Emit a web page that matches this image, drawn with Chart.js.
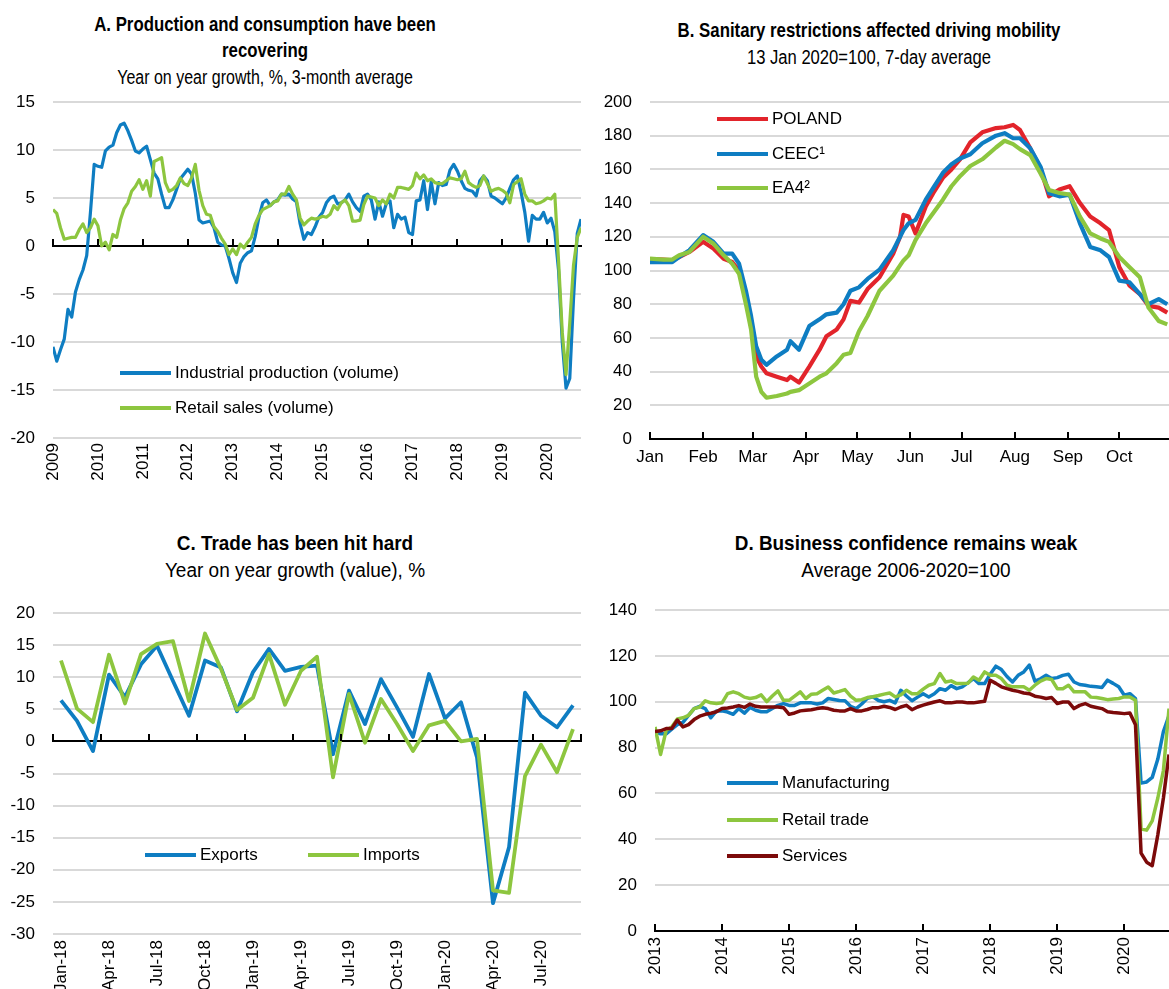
<!DOCTYPE html>
<html>
<head>
<meta charset="utf-8">
<script src="https://cdn.jsdelivr.net/npm/chart.js@4.4.1/dist/chart.umd.min.js"></script>
<style>
  body { margin:0; background:#fff; width:1169px; height:989px; overflow:hidden; position:relative; font-family:'Liberation Sans', Arial, sans-serif; }
  canvas { position:absolute; }
  .ttl { position:absolute; width:600px; text-align:center; color:#000; }
  .ttl b { display:block; font-weight:bold; font-size:21px; line-height:26px; transform:scaleX(0.8); }
  .ttl span { display:block; font-size:20px; line-height:26px; margin-top:1px; transform:scaleX(0.8); }
  .ttl.wide b { transform:scaleX(0.9); }
  .ttl.wide span { transform:scaleX(0.95); }
  .lg { position:absolute; height:24px; display:flex; align-items:center; font-size:17px; white-space:nowrap; color:#000; }
  .lg i { display:block; width:51px; height:4px; margin-right:4px; }
</style>
</head>
<body>
<div class="ttl" style="left:-35px;top:11px"><b>A. Production and consumption have been</b><b>recovering</b><span>Year on year growth, %, 3-month average</span></div>
<div class="ttl" style="left:569px;top:17px"><b>B. Sanitary restrictions affected driving mobility</b><span style="transform:scaleX(0.83)">13 Jan 2020=100, 7-day average</span></div>
<div class="ttl wide" style="left:-5px;top:530px"><b>C. Trade has been hit hard</b><span>Year on year growth (value), %</span></div>
<div class="ttl wide" style="left:606px;top:530px"><b>D. Business confidence remains weak</b><span>Average 2006-2020=100</span></div>

<canvas id="cA" width="590" height="400" style="left:0;top:92px"></canvas>
<canvas id="cB" width="579" height="400" style="left:590px;top:92px"></canvas>
<canvas id="cC" width="590" height="389" style="left:0;top:600px"></canvas>
<canvas id="cD" width="579" height="391" style="left:590px;top:598px"></canvas>

<script>
// ---- panel A: monthly, Jan 2009 - Oct 2020
const yearLabelsA = ['2009','2010','2011','2012','2013','2014','2015','2016','2017','2018','2019','2020']
const industrialProd = [
  -10.5, -12.0, -10.8, -9.7, -6.6, -7.4, -4.8, -3.5, -2.5, -1.0,
  3.5, 8.5, 8.3, 8.2, 9.9, 10.3, 10.5, 11.8, 12.6, 12.8,
  12.0, 11.0, 9.9, 9.7, 10.1, 10.4, 9.0, 7.6, 7.0, 5.4,
  4.0, 4.0, 4.8, 5.9, 7.0, 7.5, 8.0, 7.5, 5.5, 2.7,
  2.4, 2.5, 2.6, 1.9, 0.4, 0.1, 0.0, -1.3, -2.8, -3.8,
  -1.8, -1.1, -0.7, -0.5, 1.0, 3.0, 4.5, 4.8, 4.2, 4.6,
  4.8, 5.4, 5.3, 5.4, 4.9, 4.6, 2.3, 0.7, 1.4, 1.2,
  2.0, 3.0, 3.5, 4.5, 5.0, 5.2, 4.4, 4.5, 4.8, 5.4,
  4.6, 4.0, 3.6, 5.2, 5.4, 4.8, 2.8, 4.6, 3.1, 4.4,
  4.7, 1.9, 3.3, 2.8, 3.0, 1.4, 1.2, 4.7, 4.8, 6.8,
  3.8, 6.7, 4.4, 6.6, 6.3, 6.4, 7.9, 8.5, 7.8, 6.8,
  6.0, 5.8, 5.7, 5.2, 6.8, 7.3, 6.8, 5.2, 5.0, 4.7,
  4.4, 5.0, 6.0, 6.9, 7.3, 5.6, 3.5, 0.5, 3.2, 2.8,
  2.8, 3.5, 2.4, 2.9, 1.5, -2.5, -10.0, -14.8, -13.8, -5.5,
  1.3, 2.8
]
const retailSales = [
  3.8, 3.4, 1.9, 0.7, 0.8, 0.9, 0.9, 1.7, 2.3, 1.4,
  1.9, 2.8, 2.1, 0.0, 0.4, -0.4, 1.2, 0.9, 2.7, 3.9,
  4.5, 5.7, 6.2, 6.9, 5.9, 6.8, 5.2, 8.8, 9.0, 9.2,
  6.6, 5.7, 5.9, 6.3, 7.1, 6.5, 6.3, 7.1, 8.5, 5.8,
  4.2, 3.3, 3.2, 2.0, 1.5, 0.8, 0.2, -0.9, -0.3, -0.9,
  0.2, -0.2, 0.4, 0.9, 2.3, 3.2, 3.8, 4.0, 4.2, 4.6,
  4.7, 5.4, 5.4, 6.2, 5.4, 4.8, 2.9, 2.2, 2.6, 2.9,
  2.8, 2.9, 3.1, 3.0, 3.3, 4.2, 3.8, 4.5, 4.8, 4.2,
  2.6, 2.6, 2.7, 4.3, 5.2, 5.1, 5.0, 4.2, 4.8, 4.4,
  5.4, 5.0, 6.1, 6.1, 6.0, 5.9, 6.3, 7.6, 7.0, 7.4,
  6.8, 7.0, 6.6, 6.5, 6.5, 6.8, 7.1, 7.0, 6.9, 7.0,
  7.8, 6.6, 6.3, 6.1, 6.3, 7.3, 6.5, 5.7, 5.9, 6.0,
  5.8, 5.5, 4.5, 6.4, 6.7, 7.0, 5.4, 4.7, 4.7, 4.4,
  4.5, 4.7, 5.0, 4.9, 5.4, -1.5, -9.0, -13.4, -8.0, -2.0,
  0.9, 1.9
]

// ---- panel B: days since 1 Jan 2020
const monthNamesB = ['Jan','Feb','Mar','Apr','May','Jun','Jul','Aug','Sep','Oct']
const monthStartsB = [0, 31, 60, 91, 121, 152, 182, 213, 244, 274]
const mobDays = [0, 8, 13, 17, 23, 31, 37, 43, 48, 52, 56, 59, 62, 65, 68, 74, 80, 82, 87, 93,
  99, 103, 109, 113, 117, 122, 127, 134, 142, 146, 148, 151, 155, 161, 166, 171, 176, 181, 187, 194,
  202, 207, 212, 216, 222, 228, 233, 239, 245, 251, 257, 263, 268, 274, 280, 286, 291, 297, 302]
const mobPoland = [106.8, 106.5, 106, 108, 111, 117, 113, 107, 105, 100, 84, 69, 49, 43, 39, 37, 35, 37, 33.5, 43,
  53, 61, 65, 71, 82, 81, 89, 96, 110, 120, 133, 132, 122, 138, 147, 155, 160, 166, 176, 182,
  184.5, 185, 186.4, 183.4, 172.5, 160.5, 144, 148, 150, 140, 132, 128, 124, 102, 91, 86, 79, 78, 75]
const mobCeec = [105, 105, 105, 108, 112, 121, 117, 110, 110, 104, 88, 73, 55, 47, 44, 49, 53, 58, 53, 67,
  71, 74, 75, 80, 88, 90, 95, 100.5, 112, 120, 124, 128, 130, 142, 150, 158, 163, 166.5, 169, 175.5,
  180, 181.5, 178.5, 178.5, 172.5, 161.6, 145.8, 144, 145, 128, 114, 112, 108, 94, 93, 86, 80, 83, 80]
const mobEa4 = [107, 106.5, 106.5, 109, 111, 120, 116, 109, 104, 98, 80, 65, 37, 28, 24.5, 25.5, 27, 28, 29, 33,
  37, 39, 45, 50, 51, 64, 73, 88, 97, 103, 106, 109, 118, 128, 135, 142, 150, 156, 162, 166,
  173, 177, 175, 172, 168.5, 157.6, 147.8, 146, 145, 132, 122, 119, 117, 108, 102, 96, 78, 70, 68]

// ---- panel C: monthly, Jan-18 - Sep-20
const tradeMonths = ['Jan-18','Feb-18','Mar-18','Apr-18','May-18','Jun-18','Jul-18','Aug-18','Sep-18','Oct-18','Nov-18','Dec-18',
  'Jan-19','Feb-19','Mar-19','Apr-19','May-19','Jun-19','Jul-19','Aug-19','Sep-19','Oct-19','Nov-19','Dec-19',
  'Jan-20','Feb-20','Mar-20','Apr-20','May-20','Jun-20','Jul-20','Aug-20','Sep-20']
const exportsC = [6.4, 3.2, -1.5, 10.4, 6.9, 12.0, 14.9, 9.4, 4.0, 12.6, 11.5, 4.7,
  10.8, 14.4, 11.0, 11.6, 11.8, -2.0, 7.9, 2.7, 9.7, 5.3, 0.7, 10.5,
  3.6, 6.1, -2.5, -25.2, -16.5, 7.6, 4.0, 2.2, 5.6]
const importsC = [12.6, 5.1, 3.0, 13.5, 5.9, 13.6, 15.2, 15.6, 6.3, 16.8, 11.3, 4.9,
  6.8, 13.6, 5.7, 11.0, 13.2, -5.6, 7.4, -0.2, 6.6, 2.7, -1.5, 2.5,
  3.2, 0.0, 0.4, -23.2, -23.6, -5.4, -0.5, -4.8, 1.9]

// ---- panel D: monthly, Jan 2013 - Sep 2020
const yearLabelsD = ['2013','2014','2015','2016','2017','2018','2019','2020']
const manufD = [
  87, 86, 86, 88, 90, 91, 94, 97, 98, 97,
  93, 96, 96, 95.5, 94.5, 97, 95, 97.5, 96.3, 95.6,
  95.6, 97, 98.4, 99.2, 98.4, 98.4, 99.5, 99.5, 99.5, 99,
  99.5, 101.4, 101, 100.5, 100.4, 98, 97, 99, 101.5, 102.1,
  100.5, 100, 100.6, 99.5, 105, 102.5, 100.4, 102, 103.5, 102.1,
  103.5, 105.7, 105, 107, 105.7, 106.5, 108.2, 110.1, 107.9, 107.9,
  112, 115.5, 114, 111, 108.6, 111.5, 113, 116, 109, 110,
  111.5, 110.1, 110.5, 111.5, 112, 108.6, 107.5, 107.2, 106.7, 106.5,
  106.2, 109.4, 108, 106.5, 102.8, 103.5, 101.4, 64.5, 65, 67,
  75, 87, 94
]
const retailD = [
  89, 77, 87.5, 89, 92.5, 93, 94, 97, 97.7, 100.4,
  99.5, 99.2, 99.5, 103.5, 104.3, 103.5, 102, 101.4, 101.8, 103,
  100, 102.5, 104.7, 100.6, 100.6, 102.4, 104.3, 101.4, 103.3, 103.5,
  105, 106.4, 103.8, 104.5, 105.3, 102.4, 100.6, 100.9, 101.8, 102.2,
  102.7, 103.3, 103.8, 102.1, 103, 105, 103.5, 103.5, 105.5, 107.2,
  107.9, 112.3, 108.6, 109.1, 107.9, 107.9, 108, 110.8, 109.4, 113,
  111.5, 111.5, 110.1, 107.2, 106.5, 106.5, 106.5, 105, 107.2, 109,
  110.1, 109.7, 105.7, 105.7, 107.2, 104.3, 104.3, 104.3, 102, 101.8,
  101.4, 100.9, 101.2, 101.4, 102.1, 102.1, 100.6, 44.5, 44, 48,
  58, 70, 97
]
const servicesD = [
  87, 87.3, 88.3, 88.3, 92, 89, 90, 92.2, 93.7, 94.5,
  95, 95.6, 97, 97.3, 97.7, 98.3, 97.5, 99, 98, 97.7,
  97.7, 97.7, 97.7, 97.4, 94.5, 95.1, 96, 96.3, 96.5, 97,
  97.4, 97, 96.3, 96, 96, 97, 96, 96, 96.6, 97.4,
  97.4, 98, 97.5, 96.6, 97.7, 98.4, 96.5, 97.7, 98.5, 99.2,
  99.9, 100.4, 99.5, 99.5, 99.9, 99.9, 99.5, 99.5, 99.9, 100.2,
  109.4, 108, 106.5, 105.7, 105, 104.5, 103.8, 103.5, 102.4, 102,
  101.4, 101.8, 99.2, 99.9, 99.9, 97, 98.4, 99.2, 98, 97.5,
  97, 95.6, 95.3, 95.1, 94.8, 95.1, 90, 34, 30, 28.5,
  42, 58, 77
]

const FONT = "'Liberation Sans', Arial, sans-serif"
const BLUE = '#0E7DC2'
const GREEN = '#8DC63F'
const RED = '#E2242B'
const MAROON = '#7C0A0A'

function lineSet(label, values, xs, color, width, order) {
  return {
    label: label,
    data: values.map((v, i) => ({ x: xs[i], y: v })),
    borderColor: color,
    backgroundColor: color,
    borderWidth: width,
    pointRadius: 0,
    tension: 0,
    borderJoinStyle: 'round',
    order: order
  }
}

// small upward tick marks on the zero line, at the x2 scale ticks
const zeroTicks = {
  id: 'zeroTicks',
  afterDraw(chart) {
    const s = chart.scales.x2
    const y0 = Math.round(chart.scales.y.getPixelForValue(0))
    const ctx = chart.ctx
    ctx.save()
    ctx.strokeStyle = '#000'
    ctx.lineWidth = 2
    ctx.beginPath()
    s.ticks.forEach(t => {
      const x = Math.round(s.getPixelForValue(t.value))
      ctx.moveTo(x, y0)
      ctx.lineTo(x, y0 - 7)
    })
    ctx.stroke()
    ctx.restore()
  }
}

function buildChart(id, cfg) {
  return new Chart(document.getElementById(id), {
    type: 'line',
    data: { datasets: cfg.datasets },
    plugins: [zeroTicks],
    options: {
      responsive: false,
      animation: false,
      devicePixelRatio: 1,
      layout: { padding: cfg.padding },
      plugins: { legend: { display: false }, tooltip: { enabled: false } },
      scales: {
        x: {
          type: 'linear', min: cfg.xMin, max: cfg.xMax,
          afterBuildTicks: s => { s.ticks = cfg.labelAt.map(v => ({ value: v })) },
          ticks: {
            autoSkip: false, maxRotation: cfg.rot, minRotation: cfg.rot, padding: cfg.labelPad,
            color: '#000', font: { family: FONT, size: 17 },
            callback: (v, i) => cfg.labels[i]
          },
          grid: { display: false, drawTicks: false },
          border: { display: false },
          afterFit: s => {
            s.height = cfg.xHeight
            s.paddingLeft = 0
            s.paddingRight = 0
          }
        },
        // zero line
        x2: {
          type: 'linear', position: { y: 0 }, min: cfg.xMin, max: cfg.xMax,
          afterBuildTicks: s => { s.ticks = cfg.tickAt.map(v => ({ value: v })) },
          ticks: { display: false },
          grid: { display: false, drawTicks: false },
          border: { display: true, color: '#000', width: 2 }
        },
        y: {
          min: cfg.yMin, max: cfg.yMax,
          ticks: { stepSize: cfg.yStep, padding: 18, color: '#000', font: { family: FONT, size: 17 } },
          grid: { color: '#d9d9d9', lineWidth: 2, drawTicks: false },
          border: { display: false },
          afterFit: s => {
            s.width = cfg.yWidth
            s.paddingTop = 0
            s.paddingBottom = 0
          }
        }
      }
    }
  })
}

function htmlLegend(chart, x, y, dx, dy) {
  chart.data.datasets.forEach((ds, k) => {
    let row = document.createElement('div')
    row.className = 'lg'
    row.style.left = (x + k * dx) + 'px'
    row.style.top = (y + k * dy - 12) + 'px'
    row.innerHTML = '<i style="background:' + ds.borderColor + '"></i>' + ds.label
    document.body.appendChild(row)
  })
}

// A
const monthsA = industrialProd.map((v, i) => i)
const yearPosA = yearLabelsA.map((y, k) => k * 12)
const chartA = buildChart('cA', {
  datasets: [
    lineSet('Industrial production (volume)', industrialProd, monthsA, BLUE, 3.2, 2),
    lineSet('Retail sales (volume)', retailSales, monthsA, GREEN, 3.2, 1)
  ],
  padding: { top: 10, right: 9, left: 0, bottom: 0 },
  xMin: 0, xMax: 141, labelAt: yearPosA, tickAt: yearPosA, labels: yearLabelsA,
  rot: 90, labelPad: 5, xHeight: 54,
  yMin: -20, yMax: 15, yStep: 5, yWidth: 53
})
htmlLegend(chartA, 120, 373, 0, 35)

// B
const chartB = buildChart('cB', {
  datasets: [
    lineSet('POLAND', mobPoland, mobDays, RED, 4.2, 3),
    lineSet('CEEC¹', mobCeec, mobDays, BLUE, 4.2, 2),
    lineSet('EA4²', mobEa4, mobDays, GREEN, 4.2, 1)
  ],
  padding: { top: 10, right: 0, left: 0, bottom: 0 },
  xMin: 0, xMax: 303, labelAt: monthStartsB, tickAt: monthStartsB, labels: monthNamesB,
  rot: 0, labelPad: 8, xHeight: 53,
  yMin: 0, yMax: 200, yStep: 20, yWidth: 60
})
htmlLegend(chartB, 717, 119, 0, 34.5)

// C
const monthsC = exportsC.map((v, i) => i + 0.5)
const labelPosC = tradeMonths.map((m, i) => i + 0.5).filter((p, i) => i % 3 === 0)
const labelsC = tradeMonths.filter((m, i) => i % 3 === 0)
const tickPosC = labelPosC.map(p => p - 0.5).concat([tradeMonths.length])
const chartC = buildChart('cC', {
  datasets: [
    lineSet('Exports', exportsC, monthsC, BLUE, 3.8, 2),
    lineSet('Imports', importsC, monthsC, GREEN, 3.8, 1)
  ],
  padding: { top: 13, right: 9, left: 0, bottom: 0 },
  xMin: 0, xMax: tradeMonths.length, labelAt: labelPosC, tickAt: tickPosC, labels: labelsC,
  rot: 90, labelPad: 6, xHeight: 55,
  yMin: -30, yMax: 20, yStep: 5, yWidth: 53
})
htmlLegend(chartC, 145, 855, 163, 0)

// D
const monthsD = manufD.map((v, i) => i)
const yearPosD = yearLabelsD.map((y, k) => k * 12)
const chartD = buildChart('cD', {
  datasets: [
    lineSet('Manufacturing', manufD, monthsD, BLUE, 3.5, 3),
    lineSet('Retail trade', retailD, monthsD, GREEN, 3.5, 2),
    lineSet('Services', servicesD, monthsD, MAROON, 3.5, 1)
  ],
  padding: { top: 12, right: 0, left: 0, bottom: 0 },
  xMin: 0, xMax: 92, labelAt: yearPosD, tickAt: yearPosD, labels: yearLabelsD,
  rot: 90, labelPad: 6, xHeight: 58,
  yMin: 0, yMax: 140, yStep: 20, yWidth: 65
})
htmlLegend(chartD, 727, 783, 0, 36.5)
</script>
</body>
</html>
